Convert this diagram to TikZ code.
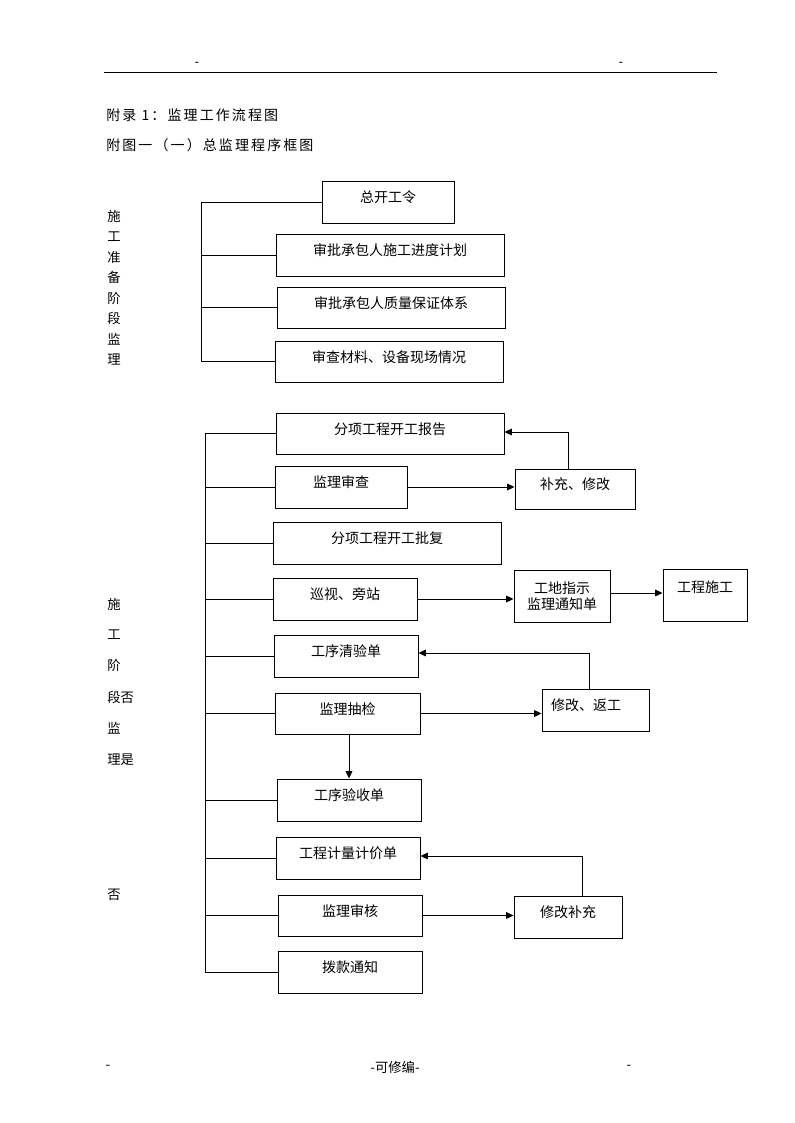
\documentclass[tikz,border=0pt]{standalone}
\usepackage{fontspec}
\setmainfont{Noto Sans CJK SC}
\usetikzlibrary{arrows.meta,calc}
\newcommand\bx[7][]{\node[box,#1,minimum width={(#5-#3)*0.75pt},minimum height={(#6-#4)*0.75pt}] (#2) at ({(#3+#5)/2},{(#4+#6)/2}) {#7};}
\tikzset{
  box/.style={draw,line width=0.7pt,inner sep=0pt,font=\fontsize{10.5pt}{13pt}\selectfont,text height=8pt,text depth=7pt},
  conn/.style={line width=0.7pt},
  arr/.style={line width=0.7pt,-{Triangle[length=5.5pt,width=5pt]}},
  side/.style={font=\fontsize{10pt}{12pt}\selectfont,inner sep=0pt},
  ttl/.style={font=\fontsize{10.5pt}{13pt}\selectfont\addfontfeature{LetterSpace=15},anchor=west,inner sep=0pt},
  small/.style={font=\fontsize{10pt}{12pt}\selectfont,inner sep=0pt}
}
\begin{document}
\begin{tikzpicture}[x=0.75pt,y=-0.75pt]
\useasboundingbox (0,0) rectangle (794,1123);
% header / footer
\coordinate (hl) at (104,72.5);
\coordinate (hr) at (717,72.5);
\draw[line width=0.8pt] (hl) -- (hr);
\node[small] (hd1) at (197,64) {-};
\node[small] (hd2) at (621,64) {-};
\node[small] (fd1) at (108,1067) {-};
\node[small] (fd2) at (395,1067) {-可修编-};
\node[small] (fd3) at (629,1067) {-};
% titles
\node[ttl] (t1) at (106,115) {附录 1：监理工作流程图};
\node[ttl] (t2) at (106,145) {附图一（一）总监理程序框图};
% side texts section 1
\foreach \c [count=\i from 0] in {施,工,准,备,阶,段,监,理}
  \node[side] (sa\i) at (114,{216+\i*20.5}) {\c};
% side texts section 2
\node[side] (sb1) at (114,604) {施};
\node[side] (sb2) at (114,635) {工};
\node[side] (sb3) at (114,665) {阶};
\node[side,anchor=west] (sb4) at (107,697) {段否};
\node[side] (sb5) at (114,728) {监};
\node[side,anchor=west] (sb6) at (107,760) {理是};
\node[side] (sb7) at (114,895) {否};
% section 1 boxes
\bx{zk}{322}{181}{454}{223}{总开工令}
\bx{jd}{276}{234}{504}{276}{审批承包人施工进度计划}
\bx{zl}{277}{287}{505}{328}{审批承包人质量保证体系}
\bx{cl}{275}{341}{503}{382}{审查材料、设备现场情况}
\coordinate (k1) at (201.5,0);
\draw[conn] (zk.west -| k1) -- (cl.west -| k1);
\foreach \n in {zk,jd,zl,cl} \draw[conn] (\n.west -| k1) -- (\n.west);
% section 2 boxes
\bx{bg}{276}{413}{504}{454}{分项工程开工报告}
\bx{sc}{275}{466}{407}{508}{监理审查}
\bx{bc}{515}{469}{635}{509}{补充、修改}
\bx{pf}{273}{522}{501}{564}{分项工程开工批复}
\bx{xs}{273}{578}{417}{620}{巡视、旁站}
\bx[text height=,text depth=,align=center]{gd}{514}{570}{610}{622}{工地指示\\[-1pt]监理通知单}
\bx[text height=,text depth=]{gc}{663}{569}{747}{621}{\raisebox{13pt}{工程施工}}
\bx{qy}{274}{635}{418}{677}{工序清验单}
\bx{cj}{275}{693}{420}{734}{监理抽检}
\bx{xf}{542}{689}{649}{731}{\hspace*{-14pt}修改、返工}
\bx{ys}{277}{779}{421}{821}{工序验收单}
\bx{jl}{276}{837}{420}{879}{工程计量计价单}
\bx{sh}{278}{895}{422}{936}{监理审核}
\bx{xb}{514}{896}{622}{938}{修改补充}
\bx{bk}{278}{951}{422}{993}{拨款通知}
\coordinate (k2) at (205,0);
\draw[conn] (bg.west -| k2) -- (bk.west -| k2);
\foreach \n in {bg,sc,pf,xs,qy,cj,ys,jl,sh,bk} \draw[conn] (\n.west -| k2) -- (\n.west);
% arrows
\coordinate (ga) at ($(gd.east)+(0,-3)$);
\coordinate (bca) at ($(bc.north)+(-6.4,0)$);
\coordinate (bga) at ($(bg.east)+(0,-1.5)$);
\coordinate (xfa) at ($(xf.north)+(-6.5,0)$);
\coordinate (qya) at ($(qy.east)+(0,-3)$);
\coordinate (xba) at ($(xb.north)+(14,0)$);
\coordinate (jla) at ($(jl.east)+(0,-2)$);
\draw[arr] (sc.east) -- (sc.east -| bc.west);
\draw[arr] (bca) |- (bga);
\draw[arr] (xs.east) -- (xs.east -| gd.west);
\draw[arr] (ga) -- (ga -| gc.west);
\draw[arr] (xfa) |- (qya);
\draw[arr] (cj.east) -- (cj.east -| xf.west);
\draw[arr] (ys.north |- cj.south) -- (ys.north);
\draw[arr] (xba) |- (jla);
\draw[arr] (sh.east) -- (sh.east -| xb.west);
\end{tikzpicture}
\end{document}
